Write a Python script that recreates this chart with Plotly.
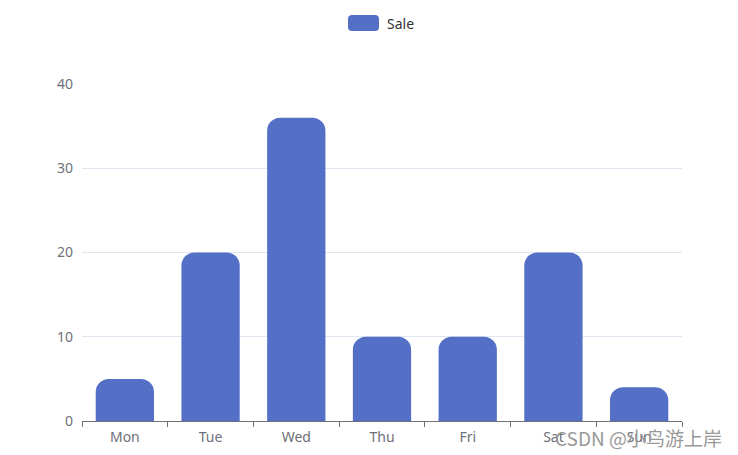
import plotly.graph_objects as go

categories = ["Mon", "Tue", "Wed", "Thu", "Fri", "Sat", "Sun"]
sales = [5, 20, 36, 10, 10, 20, 4]
series_name = "Sale"
y_ticks = [0, 10, 20, 30, 40]

BAR = "#5470C6"
AXIS = "#6E7079"
GRID = "#E0E6F1"
FONT = "Noto Sans, Open Sans, sans-serif"

# plot area in pixels: x 82..682, y 84..421
def px_x(v):
    return (v - 82) / 600

def px_y(v):
    return (421 - v) / 337

def rounded_rect(x0, y0, x1, y1, r):
    X0, X1 = px_x(x0), px_x(x1)
    Y0, Y1 = px_y(y0), px_y(y1)  # Y0 top, Y1 bottom
    rx, ry = r / 600, r / 337
    return (f"M {X0+rx} {Y0} L {X1-rx} {Y0} Q {X1} {Y0} {X1} {Y0-ry} "
            f"L {X1} {Y1+ry} Q {X1} {Y1} {X1-rx} {Y1} L {X0+rx} {Y1} "
            f"Q {X0} {Y1} {X0} {Y1+ry} L {X0} {Y0-ry} Q {X0} {Y0} {X0+rx} {Y0} Z")

fig = go.Figure(go.Bar(
    x=categories, y=sales, name=series_name,
    marker=dict(color=BAR, cornerradius=13, line=dict(width=0)),
    showlegend=False,
))

fig.update_layout(
    width=738, height=455,
    margin=dict(l=82, r=56, t=84, b=34, autoexpand=False),
    plot_bgcolor="white", paper_bgcolor="white",
    bargap=0.32,
    font=dict(family=FONT, color=AXIS, size=14),
    xaxis=dict(
        type="category", showline=True, linecolor=AXIS, linewidth=1,
        ticks="outside", tickson="boundaries", ticklen=5, tickcolor=AXIS,
        showgrid=False, tickfont=dict(size=14, color=AXIS),
        ticklabelstandoff=3, automargin=False,
    ),
    yaxis=dict(
        range=[0, 40], tickvals=y_ticks, showgrid=True, gridcolor=GRID,
        gridwidth=1, zeroline=False, showline=False, ticks="",
        ticklabelstandoff=8, tickfont=dict(size=14, color=AXIS),
        automargin=False,
    ),
    shapes=[dict(
        type="path", xref="paper", yref="paper",
        path=rounded_rect(348, 15, 379, 31, 4),
        fillcolor=BAR, line=dict(width=0),
    )],
    annotations=[
        dict(text=series_name, xref="paper", yref="paper", x=px_x(385), y=px_y(23),
             xanchor="left", yanchor="middle", showarrow=False,
             font=dict(size=14, color="#333333")),
        dict(text="CSDN @小鸟游上岸", xref="paper", yref="paper", x=px_x(724), y=px_y(437),
             xanchor="right", yanchor="middle", showarrow=False,
             font=dict(size=19, color="#999999", family="Noto Sans CJK SC, sans-serif")),
    ],
)

fig.write_html("out.html")
